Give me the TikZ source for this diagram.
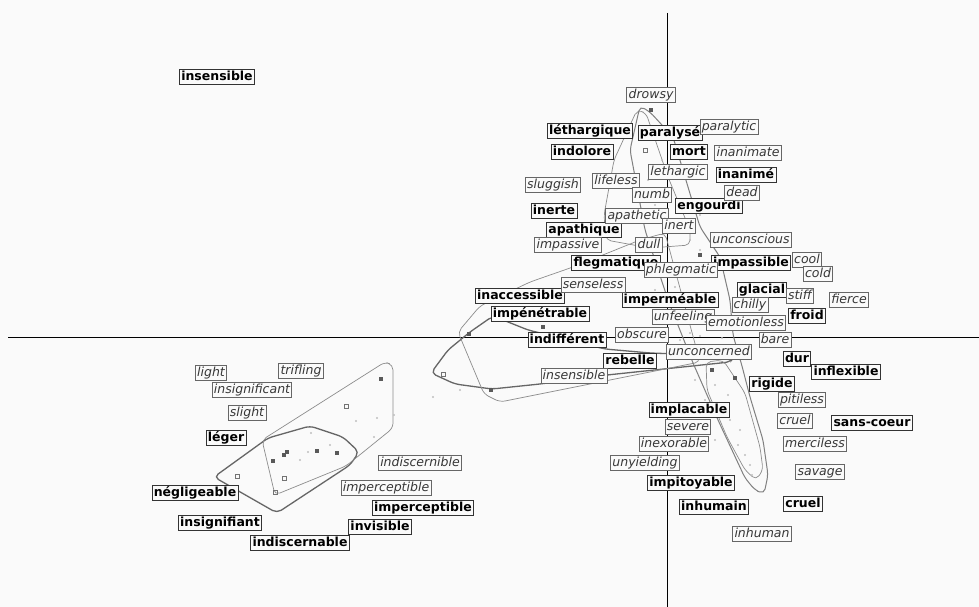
\documentclass[tikz,border=0pt]{standalone}
\usepackage{fontspec}
\setmainfont{DejaVu Sans}
\usetikzlibrary{positioning}
\definecolor{paperbg}{RGB}{250,250,250}
\definecolor{enink}{RGB}{55,55,55}
\tikzset{
frword/.style={
  draw=black!80,
  fill=paperbg,
  line width=0.8pt,
  inner xsep=1.8pt,
  inner ysep=1.5pt,
  text height=9.6pt,
  text depth=2.8pt,
  font=\fontsize{12.5}{14}\selectfont\bfseries,
  }
}
\tikzset{
enword/.style={
  frword,
  draw=black!60,
  text=enink,
  font=\fontsize{12.5}{14}\selectfont\itshape,
  }
}
\tikzset{
hullthick/.style={draw=black!60, line width=1.3pt, rounded corners=5pt},
hullthin/.style={draw=black!45, line width=0.7pt, rounded corners=5pt},
axisline/.style={draw=black, line width=0.8pt},
dotdark/.style={fill=black!65},
dotopen/.style={draw=black!55, line width=0.6pt},
dotlight/.style={fill=black!25}
}

\begin{document}
\begin{tikzpicture}[x=1pt,y=-1pt]
    \useasboundingbox (0,0) rectangle (979,607);
    \fill[paperbg] (0,0) rectangle (979,607);

    % axes
    \coordinate (ax_w) at (8,337);
    \coordinate (ax_e) at (979,337);
    \coordinate (ax_n) at (667,13);
    \coordinate (ax_s) at (667,607);
    \draw[axisline] (ax_w) -- (ax_e);
    \draw[axisline] (ax_n) -- (ax_s);

    % hulls, left cluster
    \path[hullthick] (214,477) -- (268,438) -- (310,426) -- (343,437) -- (359,452) -- (350,465) -- (277,513) -- cycle;
    \path[hullthin] (262,440) -- (385,362) -- (393,365) -- (393,428) -- (346,466) -- (275,495) -- cycle;

    % hulls, middle loops
    \path[hullthick] (431,373) -- (448,350) -- (470,332) -- (493,316) -- (528,330) -- (605,349) -- (650,353) -- (735,356) -- (730,362) -- (607,375) -- (540,384) -- (492,389) -- (455,384) -- cycle;
    \path[hullthin] (458,332) -- (480,306) -- (530,282) -- (573,267) -- (640,240) -- (665,233) -- (700,362) -- (500,402) -- (484,394) -- cycle;

    % hulls, right cluster
    \path[hullthin] (637,110) -- (646,113) -- (668,177) -- (690,230) -- (690,245) -- (650,248) -- (606,240) -- (604,215) -- (614,160) -- cycle;
    \path[hullthick, draw=black!50, line width=1pt] (640,106) -- (650,112) -- (673,137) -- (700,227) -- (720,257) -- (730,300) -- (733,335) -- (742,366) -- (750,397) -- (763,440) -- (768,475) -- (764,494) -- (755,490) -- (745,478) -- (718,420) -- (693,363) -- (668,300) -- (645,230) -- (630,150) -- cycle;
    \path[hullthin] (706,362) -- (723,360) -- (745,393) -- (760,447) -- (763,470) -- (756,480) -- (745,470) -- (727,437) -- (707,390) -- cycle;

    % points
    \foreach \dx/\dy in {273/461, 284/455, 287/452, 317/451, 381/379, 337/453, 469/334, 543/327, 491/390, 712/370, 735/378, 686/297, 700/255, 651/110}
        \fill[dotdark] (\dx-2,\dy-2) rectangle (\dx+2,\dy+2);
    \foreach \dx/\dy in {237/476, 284/478, 275/492, 346/406, 443/374, 624/214, 645/150, 658/250}
        \draw[dotopen] (\dx-2,\dy-2) rectangle (\dx+2,\dy+2);
    \foreach \dx/\dy in {311/433, 356/421, 377/418, 394/415, 374/437, 308/452, 330/445, 300/460, 433/397, 460/390, 690/333, 700/336, 712/330, 722/338, 680/340, 695/380, 705/400, 720/410, 730/420, 738/445, 745/455, 750/465, 728/395, 715/385, 660/300, 655/290, 675/287, 690/240, 700/215, 648/180, 655/205, 640/190, 662/160, 632/135, 700/250, 715/440, 740/430, 752/475}
        \fill[dotlight] (\dx,\dy) circle (1.2);

    % french words
    \node[frword] (fr_insensible) at (217,77) {insensible};
    \node[frword] (fr_lethargique) at (590,131) {léthargique};
    \node[frword] (fr_paralyse) at (670,133) {paralysé};
    \node[frword] (fr_indolore) at (582,152) {indolore};
    \node[frword] (fr_mort) at (689,152) {mort};
    \node[frword] (fr_inanime) at (746,175) {inanimé};
    \node[frword] (fr_inerte) at (554,211) {inerte};
    \node[frword] (fr_engourdi) at (709,206) {engourdi};
    \node[frword] (fr_apathique) at (584,230) {apathique};
    \node[frword] (fr_flegmatique) at (616,263) {flegmatique};
    \node[frword] (fr_impassible) at (751,263) {impassible};
    \node[frword] (fr_glacial) at (762,290) {glacial};
    \node[frword] (fr_inaccessible) at (520,296) {inaccessible};
    \node[frword] (fr_impermeable) at (670,300) {imperméable};
    \node[frword] (fr_froid) at (807,316) {froid};
    \node[frword] (fr_impenetrable) at (540,314) {impénétrable};
    \node[frword] (fr_indifferent) at (567,340) {indifférent};
    \node[frword] (fr_rebelle) at (630,361) {rebelle};
    \node[frword] (fr_dur) at (797,359) {dur};
    \node[frword] (fr_inflexible) at (846,372) {inflexible};
    \node[frword] (fr_rigide) at (772,384) {rigide};
    \node[frword] (fr_implacable) at (689,410) {implacable};
    \node[frword] (fr_sanscoeur) at (872,423) {sans-coeur};
    \node[frword] (fr_impitoyable) at (691,483) {impitoyable};
    \node[frword] (fr_inhumain) at (714,507) {inhumain};
    \node[frword] (fr_cruel) at (803,504) {cruel};
    \node[frword] (fr_leger) at (226,438) {léger};
    \node[frword] (fr_negligeable) at (195,493) {négligeable};
    \node[frword] (fr_insignifiant) at (220,523) {insignifiant};
    \node[frword] (fr_imperceptible) at (423,508) {imperceptible};
    \node[frword] (fr_invisible) at (380,527) {invisible};
    \node[frword] (fr_indiscernable) at (300,543) {indiscernable};

    % english words
    \node[enword] (en_drowsy) at (651,95) {drowsy};
    \node[enword] (en_paralytic) at (729,127) {paralytic};
    \node[enword] (en_inanimate) at (748,153) {inanimate};
    \node[enword] (en_lethargic) at (678,172) {lethargic};
    \node[enword] (en_sluggish) at (553,185) {sluggish};
    \node[enword] (en_lifeless) at (616,181) {lifeless};
    \node[enword] (en_numb) at (652,195) {numb};
    \node[enword] (en_dead) at (742,193) {dead};
    \node[enword] (en_apathetic) at (637,216) {apathetic};
    \node[enword] (en_inert) at (679,226) {inert};
    \node[enword] (en_impassive) at (568,245) {impassive};
    \node[enword] (en_dull) at (649,245) {dull};
    \node[enword] (en_unconscious) at (751,240) {unconscious};
    \node[enword] (en_cool) at (807,260) {cool};
    \node[enword] (en_cold) at (818,274) {cold};
    \node[enword] (en_phlegmatic) at (681,270) {phlegmatic};
    \node[enword] (en_senseless) at (593,285) {senseless};
    \node[enword] (en_stiff) at (800,296) {stiff};
    \node[enword] (en_fierce) at (849,300) {fierce};
    \node[enword] (en_chilly) at (750,305) {chilly};
    \node[enword] (en_unfeeling) at (683,317) {unfeeling};
    \node[enword] (en_emotionless) at (746,323) {emotionless};
    \node[enword] (en_obscure) at (642,335) {obscure};
    \node[enword] (en_bare) at (775,340) {bare};
    \node[enword] (en_unconcerned) at (709,352) {unconcerned};
    \node[enword] (en_insensible) at (574,376) {insensible};
    \node[enword] (en_pitiless) at (802,400) {pitiless};
    \node[enword] (en_cruel) at (795,421) {cruel};
    \node[enword] (en_merciless) at (815,444) {merciless};
    \node[enword] (en_savage) at (820,472) {savage};
    \node[enword] (en_severe) at (688,427) {severe};
    \node[enword] (en_inexorable) at (674,444) {inexorable};
    \node[enword] (en_unyielding) at (645,463) {unyielding};
    \node[enword] (en_inhuman) at (762,534) {inhuman};
    \node[enword] (en_light) at (211,373) {light};
    \node[enword] (en_trifling) at (301,371) {trifling};
    \node[enword] (en_insignificant) at (252,390) {insignificant};
    \node[enword] (en_slight) at (247,413) {slight};
    \node[enword] (en_indiscernible) at (420,463) {indiscernible};
    \node[enword] (en_imperceptible) at (386,488) {imperceptible};
\end{tikzpicture}
\end{document}
